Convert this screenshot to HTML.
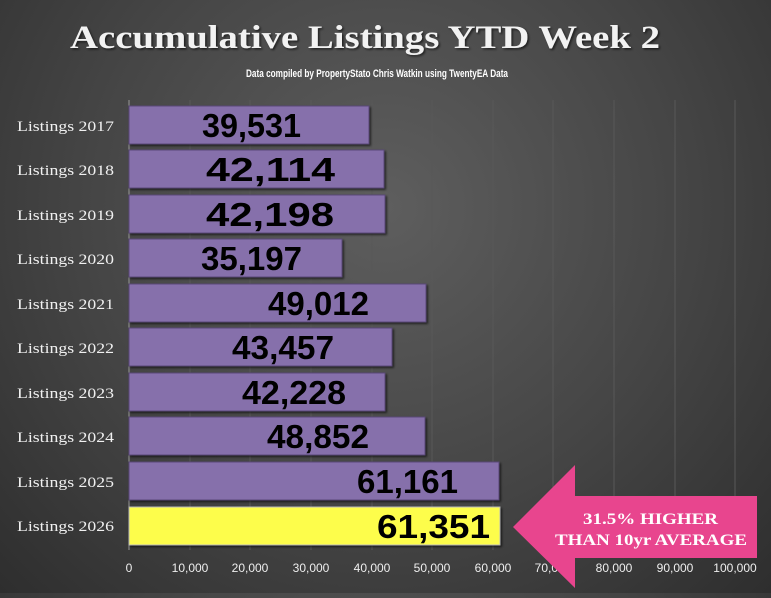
<!DOCTYPE html>
<html><head><meta charset="utf-8"><style>
html,body{margin:0;padding:0;}
body{width:771px;height:593px;overflow:hidden;background:radial-gradient(ellipse at 50% 35%,#5e5e5e 0%,#454545 55%,#2e2e2e 100%);}
</style></head><body>
<svg width="771" height="593" xmlns="http://www.w3.org/2000/svg">
<defs><filter id="sh"><feDropShadow dx="1.5" dy="1.5" stdDeviation="1" flood-color="#000" flood-opacity="0.6"/></filter></defs>
<text x="365" y="48" text-anchor="middle" font-family="Liberation Serif" font-weight="bold" font-size="33" fill="#f2f2f2" filter="url(#sh)" textLength="590" lengthAdjust="spacingAndGlyphs">Accumulative Listings YTD Week 2</text>
<text x="377" y="77" text-anchor="middle" font-family="Liberation Sans" font-weight="bold" font-size="11" fill="#fff" textLength="262" lengthAdjust="spacingAndGlyphs">Data compiled by PropertyStato Chris Watkin using TwentyEA Data</text>
<g stroke="#585858" stroke-width="1">
<line x1="190" y1="100" x2="190" y2="550"/><line x1="250" y1="100" x2="250" y2="550"/><line x1="311" y1="100" x2="311" y2="550"/><line x1="372" y1="100" x2="372" y2="550"/><line x1="432" y1="100" x2="432" y2="550"/><line x1="493" y1="100" x2="493" y2="550"/><line x1="553" y1="100" x2="553" y2="550"/><line x1="614" y1="100" x2="614" y2="550"/><line x1="675" y1="100" x2="675" y2="550"/><line x1="735" y1="100" x2="735" y2="550"/>
</g>
<line x1="129" y1="100" x2="129" y2="550" stroke="#999"/>
<g font-family="Liberation Serif" font-size="15" fill="#f0f0f0">
<text x="17" y="131" textLength="97" lengthAdjust="spacingAndGlyphs">Listings 2017</text><text x="17" y="175" textLength="97" lengthAdjust="spacingAndGlyphs">Listings 2018</text><text x="17" y="220" textLength="97" lengthAdjust="spacingAndGlyphs">Listings 2019</text><text x="17" y="264" textLength="97" lengthAdjust="spacingAndGlyphs">Listings 2020</text><text x="17" y="309" textLength="97" lengthAdjust="spacingAndGlyphs">Listings 2021</text><text x="17" y="353" textLength="97" lengthAdjust="spacingAndGlyphs">Listings 2022</text><text x="17" y="398" textLength="97" lengthAdjust="spacingAndGlyphs">Listings 2023</text><text x="17" y="442" textLength="97" lengthAdjust="spacingAndGlyphs">Listings 2024</text><text x="17" y="487" textLength="97" lengthAdjust="spacingAndGlyphs">Listings 2025</text><text x="17" y="531" textLength="97" lengthAdjust="spacingAndGlyphs">Listings 2026</text>
</g>
<g fill="#8670ab" stroke="#5a4a78" stroke-width="1" filter="url(#sh)">
<rect x="129" y="106" width="240" height="38"/><rect x="129" y="150" width="255" height="38"/><rect x="129" y="195" width="256" height="38"/><rect x="129" y="239" width="213" height="38"/><rect x="129" y="284" width="297" height="38"/><rect x="129" y="328" width="263" height="38"/><rect x="129" y="373" width="256" height="38"/><rect x="129" y="417" width="296" height="38"/><rect x="129" y="462" width="370" height="38"/>
<rect x="129" y="507" width="371" height="38" fill="#fdfd4c" stroke="#bbb"/>
</g>
<g font-family="Liberation Sans" font-weight="bold" font-size="33" fill="#000">
<text x="202" y="137" textLength="99" lengthAdjust="spacingAndGlyphs">39,531</text>
<text x="206" y="181" textLength="129" lengthAdjust="spacingAndGlyphs">42,114</text>
<text x="206" y="226" textLength="128" lengthAdjust="spacingAndGlyphs">42,198</text>
<text x="201" y="270" textLength="101" lengthAdjust="spacingAndGlyphs">35,197</text>
<text x="268" y="315" textLength="101" lengthAdjust="spacingAndGlyphs">49,012</text>
<text x="232" y="359" textLength="102" lengthAdjust="spacingAndGlyphs">43,457</text>
<text x="242" y="404" textLength="104" lengthAdjust="spacingAndGlyphs">42,228</text>
<text x="267" y="448" textLength="102" lengthAdjust="spacingAndGlyphs">48,852</text>
<text x="357" y="493" textLength="101" lengthAdjust="spacingAndGlyphs">61,161</text>
<text x="377" y="538" textLength="113" lengthAdjust="spacingAndGlyphs">61,351</text>
</g>
<g font-family="Liberation Sans" font-size="12" fill="#eee" text-anchor="middle">
<text x="129" y="572">0</text><text x="190" y="572">10,000</text><text x="250" y="572">20,000</text><text x="311" y="572">30,000</text><text x="372" y="572">40,000</text><text x="432" y="572">50,000</text><text x="493" y="572">60,000</text><text x="553" y="572">70,000</text><text x="614" y="572">80,000</text><text x="675" y="572">90,000</text><text x="735" y="572">100,000</text>
</g>
<polygon points="513,527 575,465 575,496 757,496 757,558 575,558 575,588" fill="#e8458e"/>
<g font-family="Liberation Serif" font-weight="bold" font-size="16" fill="#fff">
<text x="583" y="524" textLength="135" lengthAdjust="spacingAndGlyphs">31.5% HIGHER</text>
<text x="555" y="545" textLength="192" lengthAdjust="spacingAndGlyphs">THAN 10yr AVERAGE</text>
</g>
</svg>
</body></html>
